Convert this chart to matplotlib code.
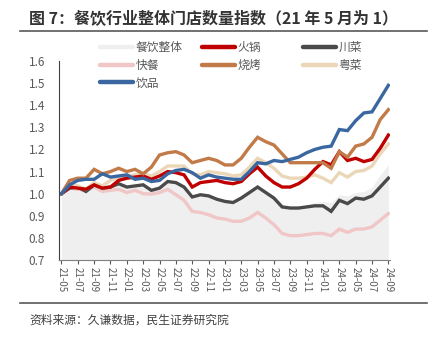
import matplotlib
matplotlib.use("Agg")
import matplotlib.pyplot as plt
from matplotlib.lines import Line2D
import numpy as np

plt.rcParams['font.family'] = ['Noto Sans CJK SC', 'DejaVu Sans']

# 月份（21-05 到 24-09）
meses = []
for a in range(21, 25):
    for m in range(1, 13):
        if (a == 21 and m < 5) or (a == 24 and m > 9):
            continue
        meses.append(f"{a}-{m:02d}")

# 各品类门店数量指数
yinpin = [1.00, 1.04, 1.06, 1.065, 1.065, 1.09, 1.075, 1.08, 1.085, 1.065,
          1.07, 1.055, 1.06, 1.09, 1.105, 1.11, 1.095, 1.07, 1.085, 1.075,
          1.07, 1.065, 1.065, 1.10, 1.14, 1.135, 1.15, 1.145, 1.155, 1.165,
          1.185, 1.20, 1.21, 1.215, 1.29, 1.285, 1.33, 1.365, 1.37, 1.43, 1.49]
shaokao = [1.00, 1.06, 1.07, 1.07, 1.11, 1.09, 1.10, 1.115, 1.10, 1.11,
           1.09, 1.12, 1.175, 1.185, 1.19, 1.175, 1.14, 1.15, 1.16, 1.15,
           1.13, 1.13, 1.16, 1.21, 1.255, 1.235, 1.22, 1.18, 1.14, 1.14,
           1.14, 1.14, 1.14, 1.115, 1.19, 1.165, 1.215, 1.225, 1.255, 1.335, 1.38]
huoguo = [1.00, 1.03, 1.025, 1.02, 1.04, 1.025, 1.03, 1.06, 1.07, 1.075,
          1.08, 1.065, 1.08, 1.10, 1.095, 1.085, 1.03, 1.05, 1.055, 1.06,
          1.05, 1.045, 1.055, 1.09, 1.12, 1.08, 1.05, 1.03, 1.03, 1.045,
          1.07, 1.11, 1.145, 1.13, 1.19, 1.15, 1.16, 1.145, 1.155, 1.205, 1.265]
yuecai = [1.00, 1.04, 1.035, 1.02, 1.05, 1.035, 1.06, 1.075, 1.08, 1.085,
          1.09, 1.08, 1.10, 1.125, 1.125, 1.125, 1.09, 1.085, 1.10, 1.095,
          1.09, 1.08, 1.085, 1.12, 1.16, 1.14, 1.115, 1.08, 1.07, 1.07,
          1.075, 1.085, 1.07, 1.05, 1.095, 1.075, 1.10, 1.105, 1.125, 1.18, 1.225]
chuancai = [1.00, 1.025, 1.03, 1.01, 1.04, 1.025, 1.03, 1.045, 1.03, 1.035,
            1.04, 1.015, 1.025, 1.055, 1.05, 1.03, 0.985, 0.995, 0.99, 0.975,
            0.965, 0.96, 0.98, 1.005, 1.03, 1.005, 0.98, 0.94, 0.935, 0.935,
            0.94, 0.945, 0.945, 0.92, 0.97, 0.955, 0.98, 0.975, 0.99, 1.03, 1.07]
kuaican = [1.00, 1.025, 1.02, 1.015, 1.03, 1.01, 1.015, 1.02, 1.005, 1.015,
           1.00, 0.998, 1.005, 1.02, 0.995, 0.97, 0.92, 0.915, 0.905, 0.89,
           0.885, 0.875, 0.875, 0.89, 0.915, 0.89, 0.86, 0.82, 0.81, 0.81,
           0.815, 0.82, 0.82, 0.81, 0.84, 0.825, 0.84, 0.84, 0.85, 0.88, 0.91]
zhengti = [1.00, 1.025, 1.03, 1.01, 1.04, 1.025, 1.03, 1.045, 1.03, 1.035,
           1.04, 1.015, 1.025, 1.055, 1.05, 1.03, 0.985, 0.995, 0.99, 0.975,
           0.965, 0.96, 0.98, 1.005, 1.03, 1.005, 0.98, 0.945, 0.94, 0.94,
           0.95, 0.96, 0.965, 0.96, 0.995, 0.99, 1.005, 1.01, 1.03, 1.085, 1.13]

x = np.arange(len(meses))

fig = plt.figure(figsize=(4.4, 3.37), dpi=100)
ax = fig.add_axes([59 / 440, 77 / 337, 331 / 440, 199 / 337])

ax.fill_between(x, 0.7, zhengti, color='#EFEFEF', lw=0)
series = [
    ("快餐", kuaican, '#F0C6C6'),
    ("川菜", chuancai, '#4A4A4A'),
    ("粤菜", yuecai, '#EBD7B8'),
    ("火锅", huoguo, '#C00000'),
    ("烧烤", shaokao, '#C17A48'),
    ("饮品", yinpin, '#3B67A0'),
]
colores = {"餐饮整体": '#EFEFEF'}
for nombre, datos, color in series:
    ax.plot(x, datos, color=color, lw=2.4, solid_joinstyle='miter')
    colores[nombre] = color

ax.set_xlim(-0.3, 40.2)
ax.set_ylim(0.7, 1.6)
ax.set_yticks(np.arange(0.7, 1.61, 0.1))
ax.set_yticklabels([f"{v:.1f}" for v in np.arange(0.7, 1.61, 0.1)])
ax.set_xticks(x[::2])
ax.set_xticklabels(meses[::2], rotation=-90)
ax.tick_params(axis='y', length=0, labelsize=8.5, colors='#595959', pad=10)
ax.tick_params(axis='x', length=3, labelsize=7, colors='#595959', pad=2, color='#595959')
for lado in ['top', 'right']:
    ax.spines[lado].set_visible(False)
ax.spines['left'].set_color('#404040')
ax.spines['bottom'].set_color('#808080')

# 图例：三列，固定位置
columnas = [(["餐饮整体", "快餐", "饮品"], 100), (["火锅", "烧烤"], 202), (["川菜", "粤菜"], 303)]
for nombres, xpos in columnas:
    hs = [Line2D([], [], color=colores[n], lw=3.2, solid_capstyle='round') for n in nombres]
    fig.legend(hs, nombres, ncol=1, frameon=False, loc='upper left',
               bbox_to_anchor=(xpos / 440, 1 - 41 / 337),
               fontsize=8.5, labelcolor='#595959', handlelength=2.8,
               handletextpad=0.2, labelspacing=0.4,
               borderaxespad=0, borderpad=0)

fig.text(29 / 440, 1 - 18 / 337, "图 7：餐饮行业整体门店数量指数（21 年 5 月为 1）",
         fontsize=11.5, fontweight='bold', color='#333333', va='center')
fig.add_artist(Line2D([20 / 440, 427 / 440], [1 - 31 / 337, 1 - 31 / 337],
                      color='#595959', lw=1.2))
fig.add_artist(Line2D([20 / 440, 427 / 440], [1 - 303 / 337, 1 - 303 / 337],
                      color='#595959', lw=1.2))
fig.text(29 / 440, 1 - 320 / 337, "资料来源：久谦数据，民生证券研究院",
         fontsize=8.5, color='#404040', va='center')

fig.savefig("out.png", dpi=100)
